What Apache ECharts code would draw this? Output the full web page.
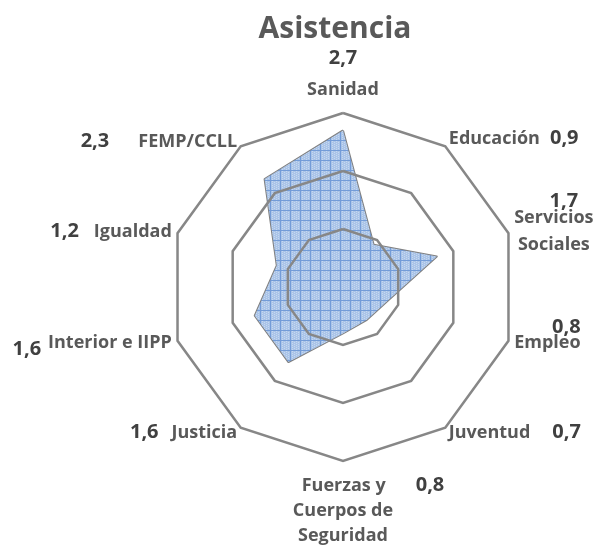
<!DOCTYPE html>
<html>
<head>
<meta charset="utf-8">
<script src="https://cdn.jsdelivr.net/npm/echarts@6/dist/echarts.min.js"></script>
<style>
html,body{margin:0;padding:0;background:#fff;}
#c{width:596px;height:545px;}
</style>
</head>
<body>
<div id="c"></div>
<script>
// Data in clockwise order starting at the top
const titleText = 'Asistencia';
const categories = ['Sanidad', 'Educación', 'Servicios\nSociales', 'Empleo', 'Juventud',
  'Fuerzas y\nCuerpos de\nSeguridad', 'Justicia', 'Interior e IIPP', 'Igualdad', 'FEMP/CCLL'];
const values = [2.7, 0.9, 1.7, 0.8, 0.7, 0.8, 1.6, 1.6, 1.2, 2.3];
const axisMax = 3;
const ringCount = 3;

function fmt(v) { return v.toFixed(1).replace('.', ','); }

// label layouts (text arrangement only) per clockwise position
const layouts = [
  (n, v) => `{vc38|${v}}\n{nc26|${n[0]}}\n{e4| }`,
  (n, v) => `{n|${n[0]}}{vl10|${v}}\n{e6| }`,
  (n, v) => `{vcS|${v}}\n{nc27|${n[0]}}\n{nc27|${n[1]}}\n{e7| }`,
  (n, v) => `{vr4|${v}}\n{n26|${n[0]}}\n{e4| }`,
  (n, v) => `{n|${n[0]}}{vl22|${v}}`,
  (n, v) => `{e6| }\n{nf|${n[0]}}{vf|${v}}\n{nc25|${n[1]}}\n{nc25|${n[2]}}`,
  (n, v) => `{v|${v}}{nl13|${n[0]}}`,
  (n, v) => `{vd|${v}}{nl7|${n[0]}}`,
  (n, v) => `{v|${v}}{nl15|${n[0]}}`,
  (n, v) => `{v|${v}}{nl29|${n[0]}}`
];

// ECharts places indicators counter-clockwise: reorder
const order = [0, 9, 8, 7, 6, 5, 4, 3, 2, 1];
const indicators = order.map(i => ({ name: String(i), max: axisMax, min: 0 }));
const seriesValues = order.map(i => values[i]);

const FF = '"Open Sans", sans-serif';
const nBase = { fontFamily: FF, fontSize: 18, fontWeight: 'bold', color: '#595959' };
const vBase = { fontFamily: FF, fontSize: 20, fontWeight: 'bold', color: '#404040' };
const rich = {
  n: Object.assign({}, nBase, { lineHeight: 26 }),
  n26: Object.assign({}, nBase, { lineHeight: 26 }),
  nc26: Object.assign({}, nBase, { lineHeight: 26, align: 'center' }),
  nc27: Object.assign({}, nBase, { lineHeight: 27, align: 'center' }),
  nc25: Object.assign({}, nBase, { lineHeight: 25, align: 'center' }),
  nf: Object.assign({}, nBase, { lineHeight: 25, align: 'center', padding: [0, 0, 0, 60] }),
  nl7: Object.assign({}, nBase, { lineHeight: 26, padding: [0, 0, 0, 7] }),
  nl13: Object.assign({}, nBase, { lineHeight: 26, padding: [0, 0, 0, 13] }),
  nl15: Object.assign({}, nBase, { lineHeight: 26, padding: [0, 0, 0, 15] }),
  nl29: Object.assign({}, nBase, { lineHeight: 26, padding: [0, 0, 0, 29] }),
  v: Object.assign({}, vBase, { lineHeight: 26 }),
  vc38: Object.assign({}, vBase, { lineHeight: 38, align: 'center' }),
  vl10: Object.assign({}, vBase, { lineHeight: 26, padding: [0, 0, 0, 10] }),
  vl22: Object.assign({}, vBase, { lineHeight: 26, padding: [0, 0, 0, 22] }),
  vcS: Object.assign({}, vBase, { lineHeight: 7, align: 'center', padding: [0, 0, 0, 20] }),
  vr4: Object.assign({}, vBase, { lineHeight: 4, align: 'right' }),
  vf: Object.assign({}, vBase, { lineHeight: 25, align: 'center', padding: [0, 0, 0, 30] }),
  vd: Object.assign({}, vBase, { lineHeight: 26, padding: [14, 0, 0, 0] }),
  e4: { fontSize: 4, lineHeight: 4 },
  e6: { fontSize: 6, lineHeight: 6 },
  e7: { fontSize: 7, lineHeight: 7 }
};

// hatch pattern
const pc = document.createElement('canvas');
pc.width = 10; pc.height = 10;
const g = pc.getContext('2d');
g.fillStyle = '#aac4e8'; g.fillRect(0, 0, 10, 10);
g.fillStyle = '#c6d8f0';
for (let x = 0; x < 10; x += 2) for (let y = (x / 2) % 2; y < 10; y += 2) g.fillRect(x, y, 1, 1);
g.fillStyle = '#739cd8'; g.fillRect(0, 0, 10, 1); g.fillRect(0, 0, 1, 10);

const chart = echarts.init(document.getElementById('c'), null, { renderer: 'canvas' });
chart.setOption({
  animation: false,
  backgroundColor: '#ffffff',
  title: {
    text: titleText, left: 330, top: 9, textAlign: 'center',
    textStyle: { fontFamily: FF, fontSize: 30, fontWeight: 'bold', color: '#595959' }
  },
  radar: {
    z: 3,
    center: [343, 287],
    radius: 174,
    startAngle: 90,
    shape: 'polygon',
    splitNumber: ringCount,
    indicator: indicators,
    axisName: {
      show: true,
      formatter: function (name) {
        const i = Number(name);
        return layouts[i](categories[i].split('\n'), fmt(values[i]));
      },
      rich: rich
    },
    nameGap: 6,
    axisLine: { show: false },
    axisTick: { show: false },
    axisLabel: { show: false },
    splitArea: { show: false },
    splitLine: { lineStyle: { color: '#878787', width: 2.5 } }
  },
  series: [{
    type: 'radar',
    z: 2,
    symbol: 'none',
    lineStyle: { color: '#808080', width: 2 },
    areaStyle: { color: { image: pc, repeat: 'repeat' }, opacity: 1 },
    data: [{ value: seriesValues }]
  }]
});
</script>
</body>
</html>
